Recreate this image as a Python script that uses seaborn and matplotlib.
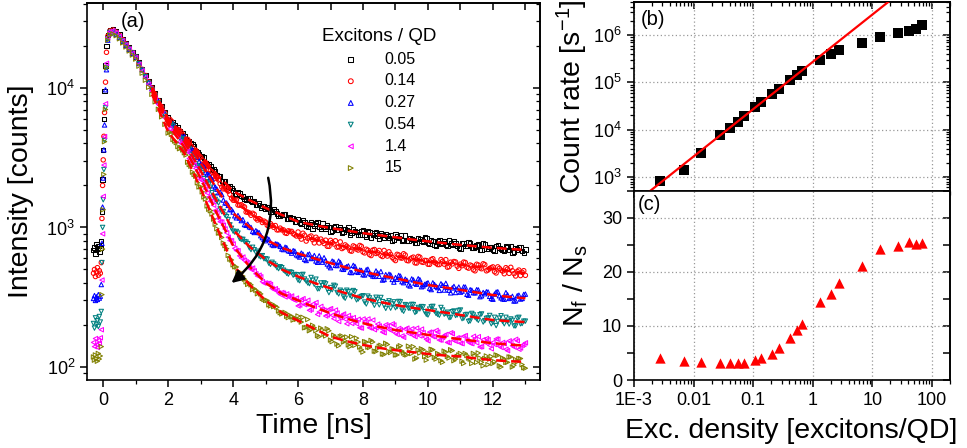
import numpy as np
import matplotlib
matplotlib.use("Agg")
import matplotlib.pyplot as plt
import matplotlib.ticker as mticker
import seaborn as sns

# ---------------- Panel (a): PL decay curves ----------------
legend_labels = ["0.05", "0.14", "0.27", "0.54", "1.4", "15"]
series_colors = ["#000000", "#ff0000", "#0000ff", "#008080", "#ff00ff", "#808000"]
series_markers = ["s", "o", "^", "v", "<", ">"]

time_pre = [-0.30, -0.27, -0.24, -0.21, -0.18, -0.15, -0.12, -0.09]
time_rise = [-0.06, -0.04, -0.02, 0.0, 0.02, 0.04, 0.07, 0.10, 0.14]
time_decay = np.round(np.arange(0.2, 13.0 + 1e-6, 0.1), 2)     # 0.20 ... 13.00
time_decay2 = np.round(np.arange(2.05, 12.95 + 1e-6, 0.1), 2)  # 2.05 ... 12.95

black_pre = [690, 720, 650, 760, 700, 740, 670, 710]
red_pre = [470, 500, 445, 480, 515, 455, 490, 470]
blue_pre = [310, 325, 300, 318, 305, 330, 312, 322]
teal_pre = [205, 190, 225, 200, 215, 195, 230, 210]
magenta_pre = [150, 140, 160, 145, 138, 155, 148, 162]
olive_pre = [118, 112, 122, 115, 110, 125, 114, 120]

black_rise = [800, 1300, 2200, 3600, 6000, 9500, 14500, 20000, 24000]
red_rise = [560, 1160, 2000, 3050, 4500, 6660, 11000, 18000, 23500]
blue_rise = [390, 770, 1400, 2260, 3600, 5430, 9700, 13500, 22000]
teal_rise = [250, 560, 1000, 1580, 2600, 4200, 7200, 14000, 22500]
magenta_rise = [185, 420, 900, 1670, 2800, 4480, 7700, 15000, 23000]
olive_rise = [140, 330, 700, 1340, 2400, 4120, 7000, 14000, 22000]

black_decay = [
    26000, 26500, 25500, 24200, 22500, 20900, 19450, 18080, 16800, 15170, 13700, 12380, 11180, 10100, 9100, 8200, 7390, 6660,
    6120, 5495, 5404, 5202, 4670, 4500, 4097, 4044, 3834, 3459, 3214, 3173, 2808, 2746, 2606, 2352, 2339, 2128, 1972, 1962,
    1838, 1714, 1750, 1666, 1585, 1617, 1515, 1446, 1482, 1430, 1352, 1389, 1305, 1314, 1221, 1230, 1239, 1152, 1162, 1103,
    1155, 1061, 1092, 1011, 1094, 1030, 1092, 979, 1010, 1030, 936, 1002, 959, 1009, 924, 960, 885, 967, 931, 890,
    956, 863, 920, 883, 921, 836, 887, 894, 840, 809, 888, 844, 809, 878, 809, 828, 778, 838, 801, 848,
    771, 806, 747, 801, 765, 803, 737, 767, 797, 735, 705, 768, 736, 772, 710, 743, 693, 765, 708, 725,
    686, 737, 710, 686, 740, 691, 662, 714, 723, 675, 697]
red_decay = [
    25600, 26000, 25100, 23800, 22170, 20660, 19240, 17930, 16700, 15070, 13600, 12280, 11080, 10000, 9015, 8127, 7327, 6605,
    5831, 5782, 5139, 5049, 4811, 4361, 4278, 3837, 3508, 3444, 3182, 2849, 2793, 2553, 2333, 2287, 2058, 1889, 1860, 1725,
    1568, 1574, 1444, 1421, 1290, 1270, 1264, 1162, 1157, 1085, 1091, 1016, 1034, 1032, 961, 960, 915, 946, 938, 886,
    928, 825, 880, 835, 869, 775, 823, 826, 768, 733, 808, 761, 723, 788, 718, 733, 682, 738, 700, 743,
    667, 698, 639, 687, 651, 684, 619, 645, 669, 610, 579, 635, 603, 635, 577, 605, 558, 620, 567, 581,
    545, 589, 564, 542, 589, 546, 519, 564, 570, 528, 546, 565, 518, 538, 497, 545, 513, 549, 489, 508,
    522, 472, 509, 487, 515, 469, 489, 449, 495, 477, 454]
blue_decay = [
    24500, 24900, 24200, 23000, 21550, 20190, 18910, 17720, 16600, 14970, 13500, 12170, 10980, 9900, 8927, 8049, 7258, 6545,
    5959, 5384, 5327, 4915, 4532, 4481, 3971, 3588, 3479, 3176, 2842, 2739, 2415, 2281, 1989, 1880, 1789, 1572, 1497, 1342,
    1290, 1173, 1168, 1138, 1036, 1010, 940, 948, 918, 846, 804, 822, 753, 763, 750, 701, 722, 681, 655, 676,
    627, 655, 592, 639, 599, 629, 563, 586, 607, 547, 515, 567, 533, 560, 501, 524, 478, 535, 483, 495,
    459, 497, 471, 449, 488, 447, 420, 459, 462, 424, 437, 453, 409, 426, 388, 428, 399, 429, 376, 391,
    401, 359, 390, 371, 395, 356, 373, 340, 378, 362, 344, 375, 332, 358, 341, 358, 319, 342, 346, 321,
    306, 344, 324, 308, 341, 310, 321, 298, 327, 310, 333]
teal_decay = [
    25000, 25300, 24500, 23300, 21770, 20340, 19010, 17760, 16600, 14910, 13390, 12020, 10800, 9700, 8721, 7841, 7050, 6339,
    5586, 5496, 4946, 4771, 4248, 4100, 3841, 3323, 3115, 2748, 2601, 2236, 2105, 1941, 1669, 1540, 1359, 1301, 1195, 1044,
    941, 936, 834, 822, 786, 715, 721, 663, 623, 628, 596, 554, 563, 534, 507, 515, 484, 463, 475, 460,
    420, 457, 427, 400, 438, 392, 363, 400, 401, 360, 371, 385, 342, 355, 318, 355, 326, 353, 303, 316,
    324, 283, 313, 294, 316, 279, 294, 263, 298, 283, 266, 295, 256, 280, 264, 281, 246, 267, 271, 249,
    236, 270, 252, 238, 267, 239, 247, 227, 252, 236, 256, 224, 238, 214, 236, 221, 237, 210, 223, 234,
    209, 198, 224, 212, 227, 203, 216, 197, 227, 205, 213]
magenta_decay = [
    25300, 25700, 24800, 23400, 21820, 20350, 18970, 17690, 16500, 14780, 13230, 11850, 10610, 9500, 8501, 7607, 6807, 6091,
    5450, 4906, 4787, 4486, 4001, 3675, 3488, 2965, 2788, 2542, 2205, 2064, 1766, 1541, 1443, 1273, 1099, 1038, 916, 807,
    762, 684, 626, 614, 568, 515, 512, 466, 455, 409, 400, 398, 366, 364, 340, 342, 318, 324, 323, 301,
    274, 303, 280, 301, 259, 272, 238, 272, 255, 236, 262, 222, 244, 226, 240, 204, 224, 226, 204, 191,
    221, 204, 191, 217, 191, 197, 178, 201, 186, 204, 175, 189, 167, 187, 174, 188, 165, 175, 187, 164,
    154, 177, 165, 178, 156, 168, 150, 176, 155, 162, 148, 166, 156, 148, 166, 149, 139, 157, 160, 143,
    150, 159, 141, 150, 134, 154, 142, 158, 134, 143, 149]
olive_decay = [
    24000, 24400, 23700, 22500, 21040, 19680, 18410, 17220, 16100, 14330, 12760, 11360, 10110, 9000, 7953, 7028, 6211, 5488,
    4753, 4653, 4165, 3801, 3723, 3434, 2935, 2748, 2398, 2091, 1957, 1654, 1426, 1319, 1148, 980, 911, 774, 705, 593,
    540, 521, 465, 448, 408, 398, 359, 355, 343, 310, 300, 279, 283, 274, 252, 240, 246, 226, 229, 225,
    232, 210, 191, 219, 186, 191, 168, 190, 172, 188, 156, 169, 146, 165, 151, 164, 140, 150, 161, 139,
    128, 151, 138, 151, 129, 141, 124, 148, 129, 135, 122, 139, 130, 123, 141, 125, 114, 132, 135, 119,
    126, 134, 117, 125, 111, 130, 119, 133, 111, 119, 125, 106, 121, 114, 125, 108, 116, 102, 120, 114,
    106, 122, 102, 116, 108, 118, 100, 113, 115, 104, 98]

# interleaved readings at 2.05 ... 12.95 ns
black_decay2 = [
    5772, 5670, 5094, 4906, 4724, 4229, 4134, 3957, 3535, 3352, 3243, 2897, 2834, 2583, 2551, 2334, 2143, 2132, 1958, 1909,
    1757, 1793, 1674, 1592, 1625, 1550, 1555, 1443, 1391, 1412, 1391, 1293, 1342, 1260, 1219, 1240, 1153, 1175, 1171, 1090,
    1083, 1131, 1033, 1063, 983, 1066, 1005, 1066, 980, 1010, 947, 1017, 965, 914, 978, 1003, 910, 939, 881, 946,
    893, 946, 846, 907, 874, 912, 841, 865, 885, 810, 860, 887, 814, 796, 844, 810, 772, 828, 791, 838,
    761, 796, 737, 810, 775, 747, 808, 746, 768, 718, 774, 738, 785, 712, 730, 753, 691, 757, 702, 724,
    685, 747, 698, 685, 722, 740, 668, 696, 718, 653]
red_decay2 = [
    5955, 5401, 4994, 4955, 4629, 4215, 4134, 3709, 3566, 3165, 3043, 2922, 2592, 2492, 2254, 2192, 1953, 1904, 1819, 1621,
    1564, 1448, 1455, 1402, 1287, 1223, 1242, 1131, 1137, 1110, 1037, 1066, 1003, 961, 989, 961, 907, 937, 903, 869,
    860, 909, 799, 856, 817, 851, 774, 795, 811, 732, 779, 803, 727, 706, 750, 714, 676, 727, 689, 732,
    657, 687, 629, 695, 659, 630, 684, 624, 641, 593, 642, 606, 648, 580, 595, 613, 556, 612, 562, 579,
    544, 597, 554, 542, 572, 588, 524, 548, 566, 509, 532, 561, 511, 531, 489, 538, 506, 542, 496, 515,
    482, 522, 494, 466, 503, 518, 467, 484, 452, 490]
blue_decay2 = [
    5726, 5549, 4968, 4818, 4397, 4265, 3739, 3591, 3376, 2963, 2780, 2473, 2385, 2208, 1946, 1773, 1721, 1497, 1440, 1343,
    1212, 1218, 1120, 1049, 1055, 1000, 921, 928, 873, 821, 833, 779, 743, 760, 732, 694, 716, 675, 682, 637,
    614, 643, 580, 645, 605, 575, 626, 564, 579, 530, 574, 536, 574, 505, 516, 530, 475, 526, 477, 492,
    457, 502, 461, 446, 472, 483, 424, 444, 457, 406, 425, 448, 402, 418, 381, 421, 392, 422, 381, 396,
    367, 401, 378, 354, 385, 398, 355, 369, 342, 374, 350, 374, 327, 355, 340, 357, 324, 335, 345, 310,
    333, 346, 313, 306, 329, 314, 297, 324, 307, 331]
teal_decay2 = [
    5405, 5318, 4786, 4390, 4322, 3911, 3663, 3169, 2853, 2701, 2474, 2126, 2041, 1774, 1588, 1498, 1297, 1228, 1139, 986,
    925, 911, 820, 792, 765, 694, 692, 676, 616, 597, 592, 544, 548, 515, 523, 494, 469, 480, 455, 459,
    415, 461, 413, 396, 418, 426, 364, 383, 394, 341, 358, 379, 334, 347, 311, 347, 319, 346, 307, 320,
    292, 322, 300, 277, 305, 315, 276, 289, 264, 293, 271, 293, 251, 277, 263, 280, 250, 261, 270, 239,
    260, 272, 242, 235, 256, 242, 226, 249, 234, 254, 222, 236, 212, 242, 227, 216, 240, 215, 225, 204,
    227, 212, 233, 204, 212, 221, 197, 224, 204, 213]
magenta_decay2 = [
    5093, 4921, 4611, 4111, 4010, 3527, 3120, 2963, 2649, 2297, 2166, 1891, 1650, 1545, 1322, 1159, 1095, 976, 851, 803,
    708, 681, 604, 582, 559, 501, 489, 449, 443, 399, 397, 390, 359, 353, 331, 338, 334, 314, 304, 312,
    278, 309, 282, 255, 282, 290, 248, 259, 232, 259, 235, 256, 212, 235, 220, 234, 205, 214, 220, 190,
    210, 221, 192, 185, 203, 190, 176, 197, 183, 200, 171, 185, 163, 190, 177, 168, 190, 167, 176, 158,
    178, 165, 183, 156, 163, 171, 149, 173, 153, 161, 147, 168, 151, 147, 159, 165, 140, 150, 157, 135,
    145, 158, 138, 147, 131, 151, 139, 154, 137, 145]
olive_decay2 = [
    4821, 4272, 4060, 3669, 3593, 3304, 2826, 2491, 2330, 1954, 1800, 1598, 1351, 1249, 1055, 912, 848, 742, 631, 585,
    523, 480, 473, 426, 391, 388, 364, 335, 334, 305, 300, 274, 271, 268, 245, 244, 231, 235, 217, 220,
    218, 227, 192, 182, 199, 182, 165, 184, 167, 182, 152, 164, 142, 167, 154, 144, 165, 143, 151, 133,
    152, 139, 155, 130, 136, 143, 123, 145, 127, 134, 122, 142, 126, 122, 134, 140, 116, 126, 133, 112,
    121, 133, 114, 123, 108, 128, 116, 131, 114, 122, 110, 125, 116, 106, 120, 126, 108, 115, 104, 119,
    109, 121, 100, 114, 108, 118, 103, 109, 115, 99]

fit_time = [1.5, 2.0, 2.5, 3.0, 3.5, 4.0, 4.5, 5.0, 5.5, 6.0, 6.5, 7.0, 7.5, 8.0,
            8.5, 9.0, 9.5, 10.0, 10.5, 11.0, 11.5, 12.0, 12.5, 13.0]
black_fit = [10100, 6000, 4500, 3280, 2400, 1820, 1570, 1380, 1230, 1100, 1040, 990, 950, 910, 880, 850, 820, 795, 772, 750, 732, 715, 702, 690]
red_fit = [10000, 5950, 4450, 3150, 2220, 1600, 1270, 1070, 960, 880, 820, 770, 725, 690, 655, 620, 595, 570, 555, 540, 522, 505, 488, 470]
blue_fit = [9900, 5900, 4350, 2900, 1880, 1265, 1010, 820, 715, 650, 600, 555, 515, 482, 455, 432, 408, 387, 372, 357, 342, 328, 318, 311]
teal_fit = [9700, 5700, 4100, 2550, 1540, 960, 730, 590, 500, 445, 400, 366, 336, 311, 293, 278, 266, 256, 246, 236, 226, 217, 213, 210]
magenta_fit = [9500, 5450, 3750, 2250, 1260, 740, 525, 400, 335, 300, 268, 243, 222, 206, 194, 184, 177, 170, 164, 158, 153, 148, 145, 142]
olive_fit = [9000, 4850, 3400, 1900, 1000, 540, 390, 300, 245, 215, 188, 165, 153, 144, 137, 132, 128, 124, 121, 119, 115, 112, 110, 109]

arrow_start = (5.08, 2270)
arrow_end = (3.95, 400)

# ---------------- Panels (b) and (c) ----------------
exc_density = [0.00273, 0.00689, 0.01345, 0.0275, 0.0404, 0.0551, 0.0693, 0.109, 0.137, 0.204,
               0.271, 0.408, 0.542, 0.665, 1.33, 2.0, 2.73, 6.70, 13.4, 26.5, 40.5, 53.0, 67.5]
count_rate = [819, 1400, 3250, 7800, 11000, 14700, 19100, 29600, 37800, 55700,
              73300, 110000, 145000, 176000, 296000, 403000, 482000, 667000, 894000,
              1.10e6, 1.22e6, 1.32e6, 1.65e6]
nf_ns = [4.0, 3.6, 3.3, 3.1, 3.2, 3.2, 3.2, 3.7, 4.0, 4.9, 5.9, 7.7, 9.3, 10.4,
         14.5, 16.0, 17.9, 21.2, 24.3, 24.8, 25.5, 25.2, 25.4]
linear_fit_coeff = 2.72e5          # count rate = coeff * density (slope 1)
linear_fit_range = [1e-3, 200.0]
exc_tick_values = [1e-3, 0.01, 0.1, 1, 10, 100]
exc_tick_labels = ["1E-3", "0.01", "0.1", "1", "10", "100"]

# ---------------- Style ----------------
sns.set_style("ticks")
plt.rcParams["font.family"] = ["Liberation Sans", "DejaVu Sans"]
plt.rcParams["mathtext.default"] = "regular"
for k in ["axes.edgecolor", "axes.labelcolor", "xtick.color", "ytick.color", "text.color"]:
    plt.rcParams[k] = "black"
plt.rcParams["axes.linewidth"] = 1.2

LABEL_FS = 20.5
TICK_FS = 13

fig = plt.figure(figsize=(9.67, 4.48), dpi=100)
ax_a = fig.add_axes([87 / 967, 1 - 380 / 448, 453 / 967, 377 / 448])
ax_b = fig.add_axes([634 / 967, 1 - 191 / 448, 316 / 967, 189 / 448])
ax_c = fig.add_axes([634 / 967, 1 - 380 / 448, 316 / 967, 189 / 448])

# ---- (a)
pres = [black_pre, red_pre, blue_pre, teal_pre, magenta_pre, olive_pre]
rises = [black_rise, red_rise, blue_rise, teal_rise, magenta_rise, olive_rise]
decays = [black_decay, red_decay, blue_decay, teal_decay, magenta_decay, olive_decay]
decays2 = [black_decay2, red_decay2, blue_decay2, teal_decay2, magenta_decay2, olive_decay2]
fits = [black_fit, red_fit, blue_fit, teal_fit, magenta_fit, olive_fit]

for lab, col, mk, pre, rise, dec, dec2 in zip(legend_labels, series_colors, series_markers,
                                              pres, rises, decays, decays2):
    n1 = min(len(time_decay), len(dec))
    n2 = min(len(time_decay2), len(dec2))
    t = np.concatenate([time_pre, time_rise, time_decay[:n1], time_decay2[:n2]])
    y = np.concatenate([pre, rise, dec[:n1], dec2[:n2]])
    sns.scatterplot(x=t, y=y, ax=ax_a, marker=mk, s=10, color=col,
                    facecolors="none", edgecolor=col, linewidth=0.75, label=lab, zorder=2)
for f in fits:
    sns.lineplot(x=fit_time, y=f, ax=ax_a, color="#ff0000", linestyle=(0, (4, 2)),
                 linewidth=1.8, zorder=3, legend=False)

ax_a.set_yscale("log")
ax_a.set_xlim(-0.5, 13.45)
ax_a.set_ylim(80.7, 40600)
ax_a.xaxis.set_major_locator(mticker.MultipleLocator(2))
ax_a.xaxis.set_minor_locator(mticker.MultipleLocator(1))
ax_a.yaxis.set_major_locator(mticker.LogLocator(base=10))
ax_a.yaxis.set_minor_locator(mticker.LogLocator(base=10, subs=np.arange(2, 10)))
ax_a.yaxis.set_minor_formatter(mticker.NullFormatter())
ax_a.tick_params(which="both", direction="out", top=False, right=False, labelsize=TICK_FS)
ax_a.tick_params(which="major", length=5, width=1.1)
ax_a.tick_params(which="minor", length=3, width=0.9)
sec = ax_a.secondary_xaxis("top")
sec.xaxis.set_major_locator(mticker.MultipleLocator(1))
sec.tick_params(direction="in", length=5, width=1.1, labeltop=False)
sec = ax_a.secondary_yaxis("right")
sec.tick_params(which="both", direction="in", labelright=False)
sec.tick_params(which="major", length=5, width=1.1)
sec.tick_params(which="minor", length=3, width=0.9)
ax_a.set_xlabel("Time [ns]", fontsize=LABEL_FS)
ax_a.set_ylabel("Intensity [counts]", fontsize=LABEL_FS)
ax_a.xaxis.set_label_coords(0.5, -0.088)
ax_a.yaxis.set_label_coords(-0.117, 0.5)
ax_a.text(0.075, 0.95, "(a)", transform=ax_a.transAxes, fontsize=14.5, ha="left", va="center")
ax_a.annotate("", xy=arrow_end, xytext=arrow_start,
              arrowprops=dict(arrowstyle="-|>", color="black", lw=1.8, mutation_scale=18,
                              connectionstyle="arc3,rad=-0.3", shrinkA=0, shrinkB=0), zorder=5)
leg = ax_a.legend(title="Excitons / QD", frameon=False, loc="upper left",
                  bbox_to_anchor=(322 / 967, 1 - 28 / 448), bbox_transform=fig.transFigure,
                  fontsize=11.5, title_fontsize=13.5, handletextpad=1.6, labelspacing=0.42,
                  borderaxespad=0, borderpad=0, handlelength=1.0, markerscale=1.1)

# ---- (b)
sns.scatterplot(x=exc_density, y=count_rate, ax=ax_b, marker="s", s=48, color="black",
                edgecolor="black", linewidth=0, zorder=3)
fit_x = np.array(linear_fit_range)
sns.lineplot(x=fit_x, y=linear_fit_coeff * fit_x, ax=ax_b, color="#ff0000", linewidth=1.6,
             zorder=4, legend=False)
ax_b.set_xscale("log")
ax_b.set_yscale("log")
ax_b.set_xlim(1e-3, 200)
ax_b.set_ylim(506, 5.0e6)
ax_b.grid(True, which="major", linestyle=(0, (1, 2)), color="#999999", linewidth=0.9)
ax_b.yaxis.set_major_locator(mticker.LogLocator(base=10))
ax_b.yaxis.set_minor_locator(mticker.LogLocator(base=10, subs=np.arange(2, 10)))
ax_b.yaxis.set_minor_formatter(mticker.NullFormatter())
ax_b.xaxis.set_minor_locator(mticker.LogLocator(base=10, subs=np.arange(2, 10)))
ax_b.tick_params(which="both", direction="out", top=False, right=False, labelbottom=False,
                 labelsize=TICK_FS)
ax_b.tick_params(which="major", length=5, width=1.1)
ax_b.tick_params(which="minor", length=3, width=0.9)
sec = ax_b.secondary_xaxis("top")
sec.tick_params(which="both", direction="in", labeltop=False)
sec.tick_params(which="major", length=5, width=1.1)
sec.tick_params(which="minor", length=3, width=0.9)
sec = ax_b.secondary_yaxis("right")
sec.tick_params(which="both", direction="in", labelright=False)
sec.tick_params(which="major", length=5, width=1.1)
sec.tick_params(which="minor", length=3, width=0.9)
ax_b.set_ylabel("Count rate [s$^{-1}$]", fontsize=LABEL_FS)
ax_b.yaxis.set_label_coords(-0.139, 0.5)
ax_b.text(0.022, 0.905, "(b)", transform=ax_b.transAxes, fontsize=14.5, ha="left", va="center")

# ---- (c)
sns.scatterplot(x=exc_density, y=nf_ns, ax=ax_c, marker="^", s=55, color="#ff0000",
                edgecolor="#ff0000", linewidth=0, zorder=3)
ax_c.set_xscale("log")
ax_c.set_xlim(1e-3, 200)
ax_c.set_ylim(0, 35.0)
ax_c.xaxis.set_major_locator(mticker.FixedLocator(exc_tick_values))
ax_c.xaxis.set_major_formatter(mticker.FixedFormatter(exc_tick_labels))
ax_c.xaxis.set_minor_locator(mticker.LogLocator(base=10, subs=np.arange(2, 10)))
ax_c.xaxis.set_minor_formatter(mticker.NullFormatter())
ax_c.yaxis.set_major_locator(mticker.MultipleLocator(10))
ax_c.yaxis.set_minor_locator(mticker.MultipleLocator(5))
ax_c.grid(True, which="major", linestyle=(0, (1, 2)), color="#999999", linewidth=0.9)
ax_c.tick_params(which="both", direction="out", top=False, right=False, labelsize=TICK_FS)
ax_c.tick_params(which="major", length=5, width=1.1)
ax_c.tick_params(axis="x", which="minor", length=3, width=0.9)
ax_c.tick_params(axis="y", which="minor", length=5, width=1.1)
sec = ax_c.secondary_yaxis("right")
sec.yaxis.set_major_locator(mticker.MultipleLocator(5))
sec.tick_params(direction="in", length=5, width=1.1, labelright=False)
ax_c.set_xlabel("Exc. density [excitons/QD]", fontsize=LABEL_FS)
ax_c.set_ylabel("N$_f$ / N$_s$", fontsize=LABEL_FS)
ax_c.xaxis.set_label_coords(0.497, -0.2)
ax_c.yaxis.set_label_coords(-0.139, 0.5)
ax_c.text(0.013, 0.926, "(c)", transform=ax_c.transAxes, fontsize=14.5, ha="left", va="center")

fig.savefig("out.png", dpi=100)
